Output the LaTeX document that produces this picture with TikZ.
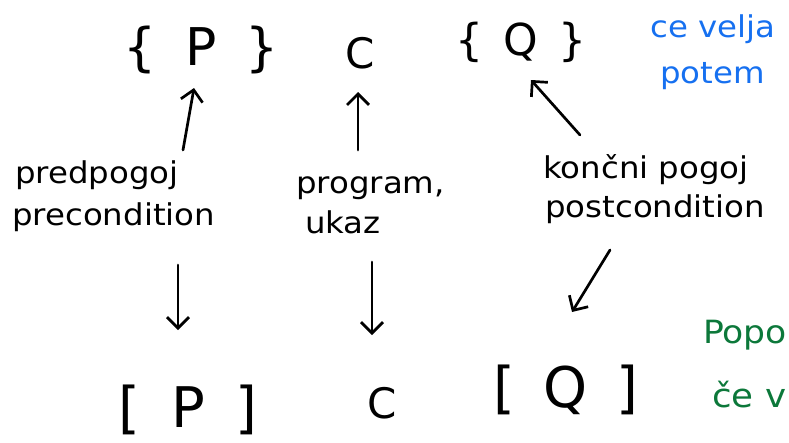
\documentclass[tikz,border=0pt]{standalone}
\usepackage{fontspec}
\setmainfont{DejaVu Sans}
\newfontfamily\hand[FakeStretch=1.08]{DejaVu Sans}
\usetikzlibrary{arrows.meta,calc}
\definecolor{inkblue}{RGB}{22,112,240}
\definecolor{inkgreen}{RGB}{12,120,58}
\begin{document}
\begin{tikzpicture}[x=1pt,y=-1pt,
  lbl/.style={font=\hand\fontsize{30}{36}\selectfont, inner sep=0pt, anchor=base west},
  big/.style={font=\fontsize{52}{60}\selectfont, inner sep=0pt, anchor=base},
  mid/.style={font=\fontsize{42}{50}\selectfont, inner sep=0pt, anchor=base},
  arr/.style={line width=2.7pt, line cap=round, line join=round,
    -{Straight Barb[length=11pt,width=22pt]}}]
\useasboundingbox (0,0) rectangle (789,442);
\clip (0,0) rectangle (789,442);
% top row
\node[big] (topP) at (201,65) {\{\hspace{29pt}P\hspace{29pt}\}};
\node[mid] (topC) at (360,68) {C};
\node[mid, font=\fontsize{44}{50}\selectfont] (topQ) at (521,55) {\{\hspace{20pt}Q\hspace{20pt}\}};
% labels
\node[lbl] (pre1) at (15,183) {predpogoj};
\node[lbl] (pre2) at (12,225) {precondition};
\node[lbl] (prog1) at (296,193) {program,};
\node[lbl] (prog2) at (305,233) {ukaz};
\node[lbl] (post1) at (543,178) {končni pogoj};
\node[lbl] (post2) at (545,217) {postcondition};
% bottom row
\node[big, font=\fontsize{56}{60}\selectfont] (botP) at (188,427) {[\hspace{31pt}P\hspace{31pt}]};
\node[mid] (botC) at (382,418) {C};
\node[big, font=\fontsize{56}{60}\selectfont] (botQ) at (566,407) {[\hspace{29pt}Q\hspace{29pt}]};
% side notes
\node[lbl, text=inkblue] (blue1) at (650,37) {ce velja};
\node[lbl, text=inkblue] (blue2) at (660,83) {potem};
\node[lbl, text=inkgreen, font=\hand\fontsize{32}{36}\selectfont] (green1) at (703,343) {Popo};
\node[lbl, text=inkgreen, font=\hand\fontsize{33}{36}\selectfont] (green2) at (712,407) {če v};
% arrows up
\draw[arr] ($(pre1.base west)+(168,-33)$) -- ($(topP.base)+(-7,23)$);
\draw[arr] ($(prog1.base west)+(62,-43)$) -- ($(topC.base)+(-2,24)$);
\draw[arr] ($(post1.base west)+(37,-43)$) -- ($(topQ.base)+(10,25)$);
% arrows down
\draw[arr] ($(pre2.base west)+(166,40)$) -- ($(botP.base)+(-10,-97)$);
\draw[arr] ($(prog2.base west)+(67,29)$) -- ($(botC.base)+(-10,-83)$);
\draw[arr] ($(post2.base west)+(65,33)$) -- ($(botQ.base)+(6,-95)$);
\end{tikzpicture}
\end{document}
